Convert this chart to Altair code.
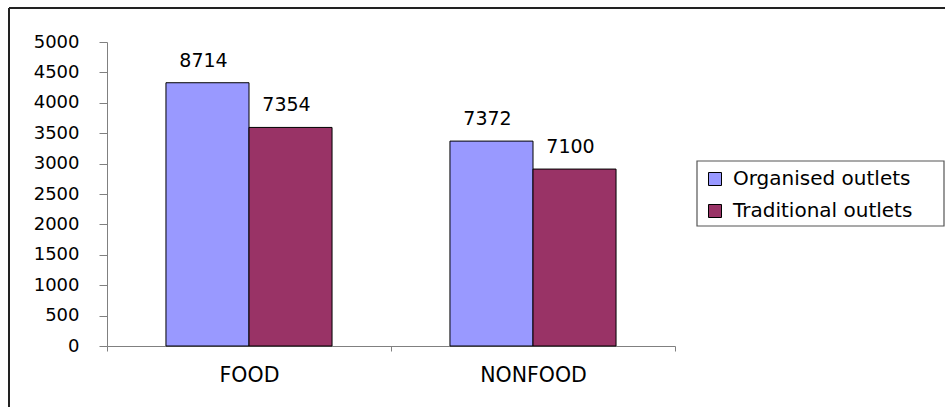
import altair as alt
import pandas as pd

# Sales per outlet type, by product category
categories = ["FOOD", "FOOD", "NONFOOD", "NONFOOD"]
outlets = ["Organised outlets", "Traditional outlets",
           "Organised outlets", "Traditional outlets"]
bar_values = [4330, 3595, 3370, 2910]
label_values = [8714, 7354, 7372, 7100]

series_order = ["Organised outlets", "Traditional outlets"]
series_colors = ["#9999FF", "#993366"]
y_ticks = list(range(0, 5001, 500))

df = pd.DataFrame({
    "category": categories,
    "outlet": outlets,
    "value": bar_values,
    "label": label_values,
})

FONT = "DejaVu Sans"

x_enc = alt.X(
    "category:N",
    title=None,
    sort=["FOOD", "NONFOOD"],
    scale=alt.Scale(paddingInner=0, paddingOuter=0),
    axis=alt.Axis(
        labelAngle=0,
        labelFont=FONT,
        labelFontSize=20.5,
        labelColor="#000000",
        labelPadding=14,
        tickBand="extent",
        tickSize=5,
        tickColor="#808080",
        domainColor="#808080",
        grid=False,
    ),
)
x_off = alt.XOffset(
    "outlet:N",
    sort=series_order,
    scale=alt.Scale(paddingInner=0, paddingOuter=0.71),
)
y_enc = alt.Y(
    "value:Q",
    title=None,
    scale=alt.Scale(domain=[0, 5000], nice=False),
    axis=alt.Axis(
        values=y_ticks,
        tickCount=11,
        format="d",
        labelOverlap=False,
        labelFont=FONT,
        labelFontSize=18,
        labelColor="#000000",
        labelPadding=20,
        tickSize=8,
        tickColor="#808080",
        domainColor="#808080",
        grid=False,
    ),
)

bars = alt.Chart(df).mark_bar(stroke="#000000", strokeWidth=1).encode(
    x=x_enc,
    xOffset=x_off,
    y=y_enc,
    color=alt.Color(
        "outlet:N",
        title=None,
        sort=series_order,
        scale=alt.Scale(domain=series_order, range=series_colors),
        legend=alt.Legend(
            orient="none",
            legendX=590,
            legendY=119,
            labelFont=FONT,
            labelFontSize=20,
            labelColor="#000000",
            labelLimit=400,
            labelOffset=8,
            symbolType="square",
            symbolSize=169,
            symbolStrokeColor="#000000",
            symbolStrokeWidth=1,
            symbolOpacity=1,
            strokeColor="transparent",
            padding=8,
            rowPadding=12,
        ),
    ),
)

labels = alt.Chart(df).mark_text(
    font=FONT, fontSize=19, color="#000000", dy=-22, dx=-4, baseline="middle"
).encode(
    x=x_enc,
    xOffset=x_off,
    y=y_enc,
    text=alt.Text("label:Q", format="d"),
)

one_row = alt.Data(values=[{}])

# Border around the legend entries
legend_box = alt.Chart(one_row).mark_rect(
    fill="transparent", stroke="#555555", strokeWidth=1.2
).encode(
    x=alt.value(590), x2=alt.value(837), y=alt.value(119), y2=alt.value(184)
)

# Outer frame: top and left edges of the chart border
frame_top = alt.Chart(one_row).mark_rule(
    color="#222222", strokeWidth=2
).encode(x=alt.value(-98), x2=alt.value(838), y=alt.value(-34))
frame_left = alt.Chart(one_row).mark_rule(
    color="#222222", strokeWidth=2
).encode(x=alt.value(-98), y=alt.value(-34), y2=alt.value(365))

chart = (
    alt.layer(bars, labels, legend_box, frame_top, frame_left)
    .properties(
        width=568,
        height=304,
        autosize=alt.AutoSizeParams(type="none"),
        padding={"left": 107, "top": 42, "right": 270, "bottom": 61},
        background="#ffffff",
    )
    .configure_view(stroke=None)
)

chart.save("out.html", embed_options={"renderer": "svg", "actions": False})
